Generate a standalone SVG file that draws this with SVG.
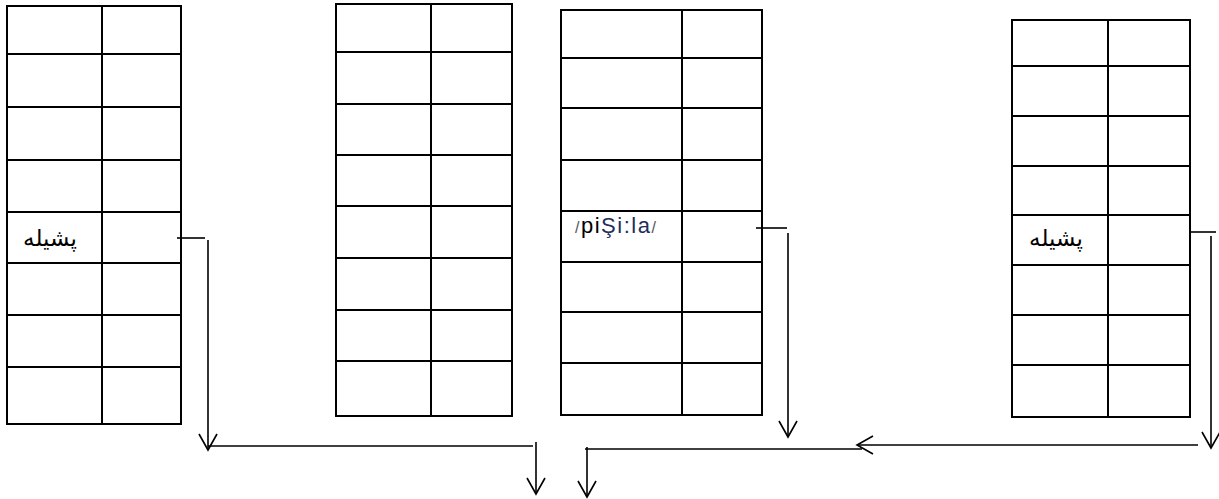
<svg xmlns="http://www.w3.org/2000/svg" width="1219" height="499" viewBox="0 0 1219 499">
<style>
.tb{fill:#fff;stroke:#000;stroke-width:2}
.gl{stroke:#000;stroke-width:2}
.cn{fill:none;stroke:#000;stroke-width:1.6}
.ar{font-family:"Liberation Serif","DejaVu Serif","DejaVu Sans",serif;font-size:23px;fill:#000}
.ph{font-family:"Liberation Sans",Arial,sans-serif;font-size:22px;letter-spacing:1.5px}
</style>
<defs>
<marker id="v" viewBox="-18 -10 20 20" refX="0" refY="0" markerWidth="20" markerHeight="20" markerUnits="userSpaceOnUse" orient="auto">
<path d="M-16,-9 L0,0 L-16,9" fill="none" stroke="#000" stroke-width="1.6"/>
</marker>
</defs>
<rect width="1219" height="499" fill="#fff"/>
<g id="table1">
<rect class="tb" x="7" y="6" width="174" height="418"/>
<path class="gl" d="M102,6V424M7,54H181M7,107H181M7,160H181M7,212H181M7,263H181M7,315H181M7,367H181"/>
<text class="ar" x="50" y="246" text-anchor="middle" direction="rtl">پشیله</text>
</g>
<g id="table2">
<rect class="tb" x="336" y="4" width="176" height="412"/>
<path class="gl" d="M431,4V416M336,52H512M336,104H512M336,155H512M336,206H512M336,258H512M336,310H512M336,361H512"/>
</g>
<g id="table3">
<rect class="tb" x="561" y="10" width="201" height="405"/>
<path class="gl" d="M682,10V415M561,58H762M561,108H762M561,160H762M561,211H762M561,262H762M561,312H762M561,363H762"/>
<text class="ph" x="575" y="233"><tspan fill="#555" font-size="16">/</tspan><tspan fill="#000">pi</tspan><tspan fill="#1f2d5c">Şi:la</tspan><tspan fill="#555" font-size="16">/</tspan></text>
</g>
<g id="table4">
<rect class="tb" x="1012" y="20" width="178" height="397"/>
<path class="gl" d="M1108,20V417M1012,66H1190M1012,116H1190M1012,166H1190M1012,215H1190M1012,265H1190M1012,315H1190M1012,365H1190"/>
<text class="ar" x="1056" y="246" text-anchor="middle" direction="rtl">پشیله</text>
</g>
<g id="connectors">
<path class="cn" d="M177,238H205"/>
<path class="cn" d="M208,240V450" marker-end="url(#v)"/>
<path class="cn" d="M208,446H533"/>
<path class="cn" d="M536,442V494" marker-end="url(#v)"/>
<path class="cn" d="M756,228H787"/>
<path class="cn" d="M788,233V437" marker-end="url(#v)"/>
<path class="cn" d="M1190,232H1216"/>
<path class="cn" d="M1211,236V448" marker-end="url(#v)"/>
<path class="cn" d="M1198,445H857" marker-end="url(#v)"/>
<path class="cn" d="M862,449H585"/>
<path class="cn" d="M587,447V497" marker-end="url(#v)"/>
</g>
</svg>
